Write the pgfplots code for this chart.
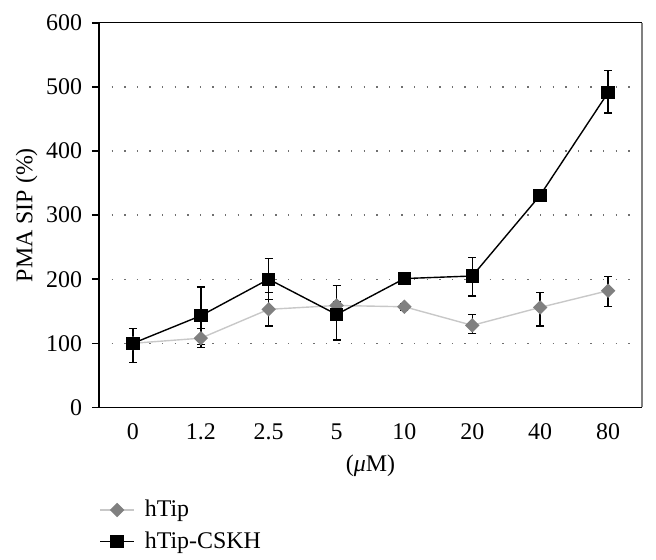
\documentclass[border=0pt]{standalone}
\usepackage{pgfplots}
\pgfplotsset{compat=1.18}
\usepackage{pgfplotstable}
\usepackage{fontspec}
\setmainfont{Liberation Serif}
\definecolor{lightln}{HTML}{C8C8C8}
\definecolor{diam}{HTML}{808080}
\definecolor{gridc}{HTML}{707070}
\pgfplotstableread{
x y ep em
0 100 0 0
1 108 15 15
2 153 26 26
3 159 6 6
4 157 5 5
5 128 17 13
6 156 23 29
7 182 22 25
}\htip
\pgfplotstableread{
x y ep em
0 100 23 30
1 143 45 45
2 200 32 32
3 145 45 40
4 201 6 6
5 205 29 31
6 331 8 8
7 491 35 32
}\cskh
\begin{document}
\begin{tikzpicture}
\path[use as bounding box] (-49.5bp,-76.3bp) rectangle (278.5bp,203.7bp);
\begin{axis}[
  at={(0,0)}, anchor=south west,
  scale only axis, width=271.5bp, height=192.3bp,
  xmin=-0.5, xmax=7.5, ymin=0, ymax=600,
  xtick={0,...,7},
  xticklabels={0,1.2,2.5,5,10,20,40,80},
  ytick={0,100,...,600},
  axis x line*=bottom, axis y line*=left,
  axis line style={line width=0.8bp, -},
  major x tick style={draw=none},
  y tick style={line width=0.8bp, black},
  tick align=outside, major tick length=3.5bp,
  ymajorgrids,
  major grid style={gridc, line width=0.7bp, dash pattern=on 0.7bp off 5.6bp},
  /pgf/number format/assume math mode=true,
  tick label style={font=\fontsize{12}{14}\selectfont},
  xticklabel style={yshift=-1bp},
  yticklabel style={xshift=-1.5bp},
  xlabel={(\textit{μ}M)},
  ylabel={PMA SIP (\%)},
  label style={font=\fontsize{12}{14}\selectfont},
  xlabel style={yshift=-1bp},
  ylabel style={yshift=-2.5bp},
  legend style={at={(0,-0.23)}, anchor=north west, draw=none, fill=none,
    font=\fontsize{12}{14}\selectfont, row sep=2bp, inner sep=0pt,
    nodes={inner sep=2pt}},
  legend cell align=left,
  legend image post style={},
  after end axis/.code={
    \draw[line width=0.6bp] (rel axis cs:0,1) -- (rel axis cs:1,1);
    \draw[line width=0.6bp, gray] (rel axis cs:1,1) -- (rel axis cs:1,0);
  },
]
\addplot[lightln, line width=0.7bp, mark=square*, mark size=2.2bp,
  mark options={rotate=45, fill=diam, draw=diam},
  error bars/.cd, y dir=both, y explicit,
  error bar style={black, line width=0.7bp},
  error mark options={rotate=90, mark size=2bp, line width=0.7bp, black}]
  table[x=x, y=y, y error plus=ep, y error minus=em] {\htip};
\addlegendentry{\hspace{3bp}hTip}
\addplot[black, line width=0.7bp, mark=square*, mark size=3bp,
  mark options={fill=black},
  error bars/.cd, y dir=both, y explicit,
  error bar style={black, line width=0.7bp},
  error mark options={rotate=90, mark size=2bp, line width=0.7bp, black}]
  table[x=x, y=y, y error plus=ep, y error minus=em] {\cskh};
\addlegendentry{\hspace{3bp}hTip-CSKH}
\end{axis}
\end{tikzpicture}
\end{document}
